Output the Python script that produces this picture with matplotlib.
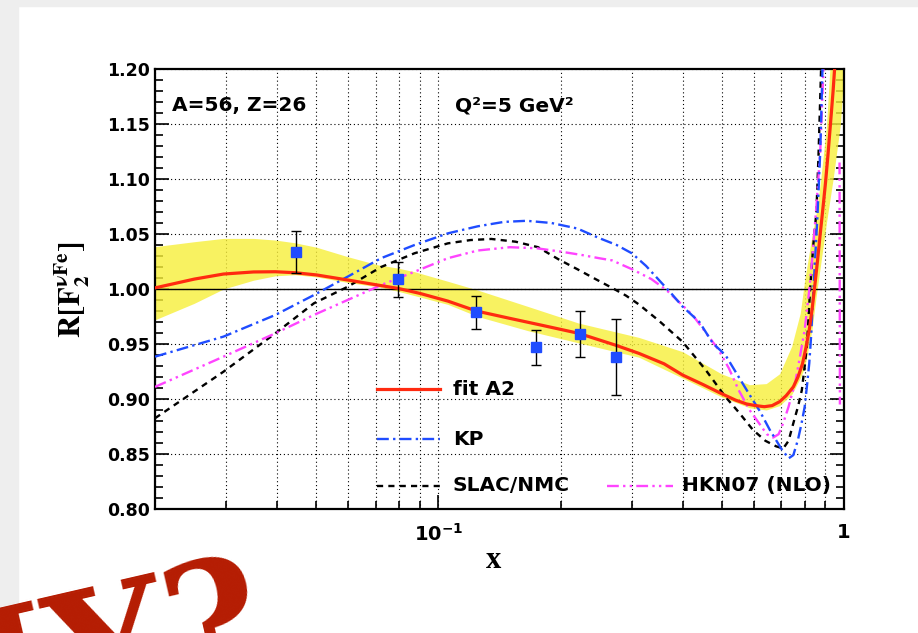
import matplotlib
matplotlib.use("Agg")
import matplotlib.pyplot as plt
from matplotlib.patches import Rectangle
from matplotlib.ticker import FixedLocator, FixedFormatter, LogLocator, MultipleLocator, NullFormatter

# nuclear ratio R = F2(Fe)/F2(D) for neutrino scattering, Q^2 = 5 GeV^2

# fit A2 central curve
fit_x = [0.02, 0.025, 0.0295, 0.035, 0.0396, 0.0443, 0.05, 0.0597, 0.0708, 0.0794,
         0.09, 0.1055, 0.124, 0.15, 0.18, 0.2217, 0.273, 0.312, 0.36, 0.40,
         0.45, 0.498, 0.54, 0.575, 0.605, 0.636, 0.665, 0.694, 0.72, 0.75,
         0.77, 0.79, 0.805, 0.821, 0.834, 0.846, 0.86, 0.874, 0.887, 0.90,
         0.913, 0.926, 0.94, 0.95]
fit_y = [1.001, 1.009, 1.0136, 1.0155, 1.0157, 1.0148, 1.0128, 1.0082, 1.0036, 1.0006,
         0.996, 0.989, 0.980, 0.9733, 0.967, 0.9597, 0.949, 0.9415, 0.932, 0.9218,
         0.913, 0.905, 0.899, 0.8955, 0.894, 0.893, 0.894, 0.8976, 0.903, 0.911,
         0.92, 0.932, 0.946, 0.963, 0.981, 1.001, 1.025, 1.0506, 1.073, 1.096,
         1.122, 1.15, 1.18, 1.205]

# fit A2 uncertainty band
band_x = [0.02, 0.025, 0.0295, 0.035, 0.0396, 0.0443, 0.05, 0.0597, 0.0708, 0.0794,
          0.0873, 0.1055, 0.125, 0.1666, 0.2217, 0.312, 0.40, 0.498, 0.585, 0.643,
          0.694, 0.743, 0.78, 0.80, 0.833, 0.855, 0.874, 0.905, 0.94, 0.98, 1.0]
band_lo = [0.972, 0.987, 1.000, 1.008, 1.012, 1.013, 1.011, 1.006, 1.002, 0.998,
           0.994, 0.986, 0.975, 0.962, 0.951, 0.938, 0.919, 0.902, 0.892, 0.890,
           0.894, 0.904, 0.919, 0.929, 0.962, 0.995, 1.02, 1.06, 1.10, 1.15, 1.2]
band_hi = [1.0385, 1.043, 1.046, 1.046, 1.0445, 1.042, 1.038, 1.0294, 1.022, 1.019,
           1.0157, 1.007, 0.999, 0.984, 0.969, 0.956, 0.943, 0.923, 0.913, 0.914,
           0.923, 0.948, 0.978, 1.008, 1.0475, 1.07, 1.096, 1.1475, 1.25, 1.3, 1.3]

# Kulagin-Petti
kp_x = [0.02, 0.0295, 0.0396, 0.0493, 0.0597, 0.0722, 0.0873, 0.1055, 0.125, 0.145,
        0.165, 0.19, 0.22, 0.2486, 0.275, 0.30, 0.325, 0.35, 0.375, 0.40,
        0.44, 0.475, 0.51, 0.55, 0.596, 0.62, 0.656, 0.70, 0.73, 0.75,
        0.77, 0.785, 0.80, 0.812, 0.821, 0.83, 0.838, 0.848, 0.86, 0.874, 0.885]
kp_y = [0.9385, 0.9567, 0.9764, 0.9945, 1.0112, 1.028, 1.040, 1.0506, 1.057, 1.061,
        1.062, 1.060, 1.055, 1.0464, 1.040, 1.0324, 1.021, 1.008, 0.996, 0.984,
        0.970, 0.9506, 0.94, 0.920, 0.899, 0.889, 0.872, 0.855, 0.846, 0.849,
        0.863, 0.877, 0.893, 0.915, 0.9325, 0.958, 0.99, 1.025, 1.066, 1.126, 1.2]

# SLAC/NMC parametrisation
slac_x = [0.02, 0.0295, 0.0396, 0.0493, 0.0597, 0.0722, 0.0873, 0.1055, 0.12, 0.135,
          0.155, 0.176, 0.1977, 0.22, 0.244, 0.268, 0.29, 0.312, 0.35, 0.40,
          0.456, 0.51, 0.55, 0.596, 0.64, 0.68, 0.708, 0.73, 0.75, 0.77,
          0.787, 0.80, 0.81, 0.818, 0.825, 0.84, 0.855, 0.865, 0.878]
slac_y = [0.8825, 0.9248, 0.9597, 0.987, 1.002, 1.020, 1.0325, 1.0415, 1.0445, 1.0455,
          1.043, 1.038, 1.027, 1.018, 1.009, 1.001, 0.994, 0.986, 0.971, 0.952,
          0.9264, 0.902, 0.888, 0.872, 0.862, 0.857, 0.855, 0.862, 0.878, 0.893,
          0.908, 0.93, 0.948, 0.975, 1.0, 1.04, 1.07, 1.12, 1.2]

# HKN07 (NLO)
hkn_x = [0.02, 0.0295, 0.0396, 0.0493, 0.0597, 0.0722, 0.0873, 0.1055, 0.125, 0.15,
         0.175, 0.20, 0.225, 0.249, 0.268, 0.30, 0.335, 0.365, 0.395, 0.424,
         0.455, 0.49, 0.52, 0.55, 0.585, 0.62, 0.645, 0.669, 0.69, 0.708,
         0.73, 0.76, 0.78, 0.80, 0.821, 0.836, 0.855, 0.874, 0.89]
hkn_y = [0.911, 0.9385, 0.9597, 0.9764, 0.990, 1.0036, 1.0157, 1.028, 1.035, 1.038,
         1.037, 1.034, 1.031, 1.028, 1.026, 1.018, 1.009, 0.999, 0.987, 0.976,
         0.961, 0.945, 0.928, 0.908, 0.89, 0.877, 0.868, 0.865, 0.868, 0.878,
         0.893, 0.917, 0.94, 0.963, 0.999, 1.03, 1.075, 1.126, 1.2]
hkn_edge_x = [0.975, 0.976, 0.977]
hkn_edge_y = [1.115, 1.005, 0.895]

# neutrino-iron data points
data_x = [0.0446, 0.0794, 0.124, 0.174, 0.2234, 0.2739]
data_y = [1.0333, 1.0088, 0.9788, 0.947, 0.9591, 0.9379]
data_err = [0.019, 0.016, 0.015, 0.016, 0.0205, 0.0345]

RED = '#ff2a10'
BLUE = '#1f4cff'
MAGENTA = '#ff44ff'
BAND = '#f7ef3a'

fig = plt.figure(figsize=(9.18, 6.33), dpi=100, facecolor='white')
W, H = 918.0, 633.0

# slide frame
fig.add_artist(Rectangle((0, 0), 18 / W, 1, transform=fig.transFigure,
                         color='#eeeeee', zorder=0))
fig.add_artist(Rectangle((0, 1 - 6 / H), 1, 6 / H, transform=fig.transFigure,
                         color='#eeeeee', zorder=0))

ax = fig.add_axes([155 / W, 1 - 509 / H, 689 / W, 440 / H])
ax.set_xscale('log')
ax.set_xlim(0.02, 1)
ax.set_ylim(0.8, 1.2)

ax.xaxis.set_major_locator(FixedLocator([0.1, 1]))
ax.xaxis.set_major_formatter(FixedFormatter([r'$\mathbf{10^{-1}}$', '1']))
ax.xaxis.set_minor_locator(LogLocator(base=10, subs=range(2, 10)))
ax.xaxis.set_minor_formatter(NullFormatter())
ax.yaxis.set_major_locator(MultipleLocator(0.05))
ax.yaxis.set_minor_locator(MultipleLocator(0.01))
ax.yaxis.set_major_formatter(plt.FormatStrFormatter('%.2f'))

ax.tick_params(which='both', direction='in', right=True, top=False,
               width=1.2, colors='black')
ax.tick_params(which='major', length=10)
ax.tick_params(which='minor', length=5.5)
ax.tick_params(axis='y', pad=3.5)
ax.tick_params(axis='x', pad=10)
for lab in ax.get_yticklabels():
    lab.set_fontfamily('DejaVu Sans')
    lab.set_fontweight('bold')
    lab.set_fontsize(12.5)
for lab in ax.get_xticklabels():
    lab.set_fontfamily('DejaVu Sans')
    lab.set_fontweight('bold')
    lab.set_fontsize(14)
for sp in ax.spines.values():
    sp.set_linewidth(1.6)

grid_kw = dict(color='black', linewidth=0.8, linestyle=(0, (1, 2.5)))
ax.grid(True, which='major', axis='y', **grid_kw)
ax.grid(True, which='both', axis='x', **grid_kw)
ax.set_axisbelow(True)

ax.fill_between(band_x, band_lo, band_hi, color=BAND, alpha=0.8,
                linewidth=0, zorder=2)
ax.axhline(1.0, color='black', linewidth=1.0, zorder=3)

ax.plot(slac_x, slac_y, color='black', lw=1.7, ls=(0, (2.6, 2.2)), zorder=4)
ax.plot(hkn_x, hkn_y, color=MAGENTA, lw=1.7, ls=(0, (5, 1.8, 1, 1.8, 1, 1.8)), zorder=4)
ax.plot(hkn_edge_x, hkn_edge_y, color=MAGENTA, lw=1.7, ls=(0, (5, 1.8, 1, 1.8, 1, 1.8)), zorder=4)
ax.plot(kp_x, kp_y, color=BLUE, lw=1.7, ls=(0, (5, 1.8, 1, 1.8)), zorder=4)
ax.plot(fit_x, fit_y, color=RED, lw=2.3, zorder=5)

ax.errorbar(data_x, data_y, yerr=data_err, fmt='s', color=BLUE, ms=6.5,
            mec=BLUE, ecolor='black', elinewidth=1.0, capsize=3.5,
            capthick=1.0, zorder=6)

# legend, drawn by hand in ROOT TLegend layout
txt_kw = dict(transform=ax.transAxes, fontfamily='DejaVu Sans', fontweight='bold',
              fontsize=14.5, va='center', ha='left', zorder=7)
entries = [
    (0.322, 0.4136, 0.4325, 0.2727, dict(color=RED, lw=2.3), 'fit A2'),
    (0.322, 0.4136, 0.4325, 0.159, dict(color=BLUE, lw=1.7, ls=(0, (5, 1.8, 1, 1.8))), 'KP'),
    (0.322, 0.4136, 0.4325, 0.0523, dict(color='black', lw=1.7, ls=(0, (2.6, 2.2))), 'SLAC/NMC'),
    (0.656, 0.752, 0.765, 0.0523, dict(color=MAGENTA, lw=1.7,
                                       ls=(0, (5, 1.8, 1, 1.8, 1, 1.8))), 'HKN07 (NLO)'),
]
for x0, x1, xt, yy, style, label in entries:
    ax.plot([x0, x1], [yy, yy], transform=ax.transAxes, zorder=7, **style)
    ax.text(xt, yy, label, **txt_kw)

ax.text(0.0242, 0.916, 'A=56, Z=26', **txt_kw)
ax.text(0.435, 0.916, 'Q²=5 GeV²', **txt_kw)

fig.text(72 / W, 1 - 290 / H, r'$\mathbf{R[F_{2}^{\nu Fe}]}$', rotation=90,
         ha='center', va='center', fontsize=22, math_fontfamily='stix')
fig.text(493 / W, 1 - 560 / H, 'x', ha='center', va='center', fontsize=22,
         fontfamily='Liberation Serif', fontweight='bold')

fig.text(274 / W, 1 - 668 / H, 'WHY?', rotation=13, rotation_mode='anchor',
         ha='right', va='baseline', fontsize=118, fontfamily='DejaVu Serif',
         fontweight='bold', color='#b51c02', zorder=10)

fig.savefig('out.png', dpi=100, facecolor=fig.get_facecolor())
